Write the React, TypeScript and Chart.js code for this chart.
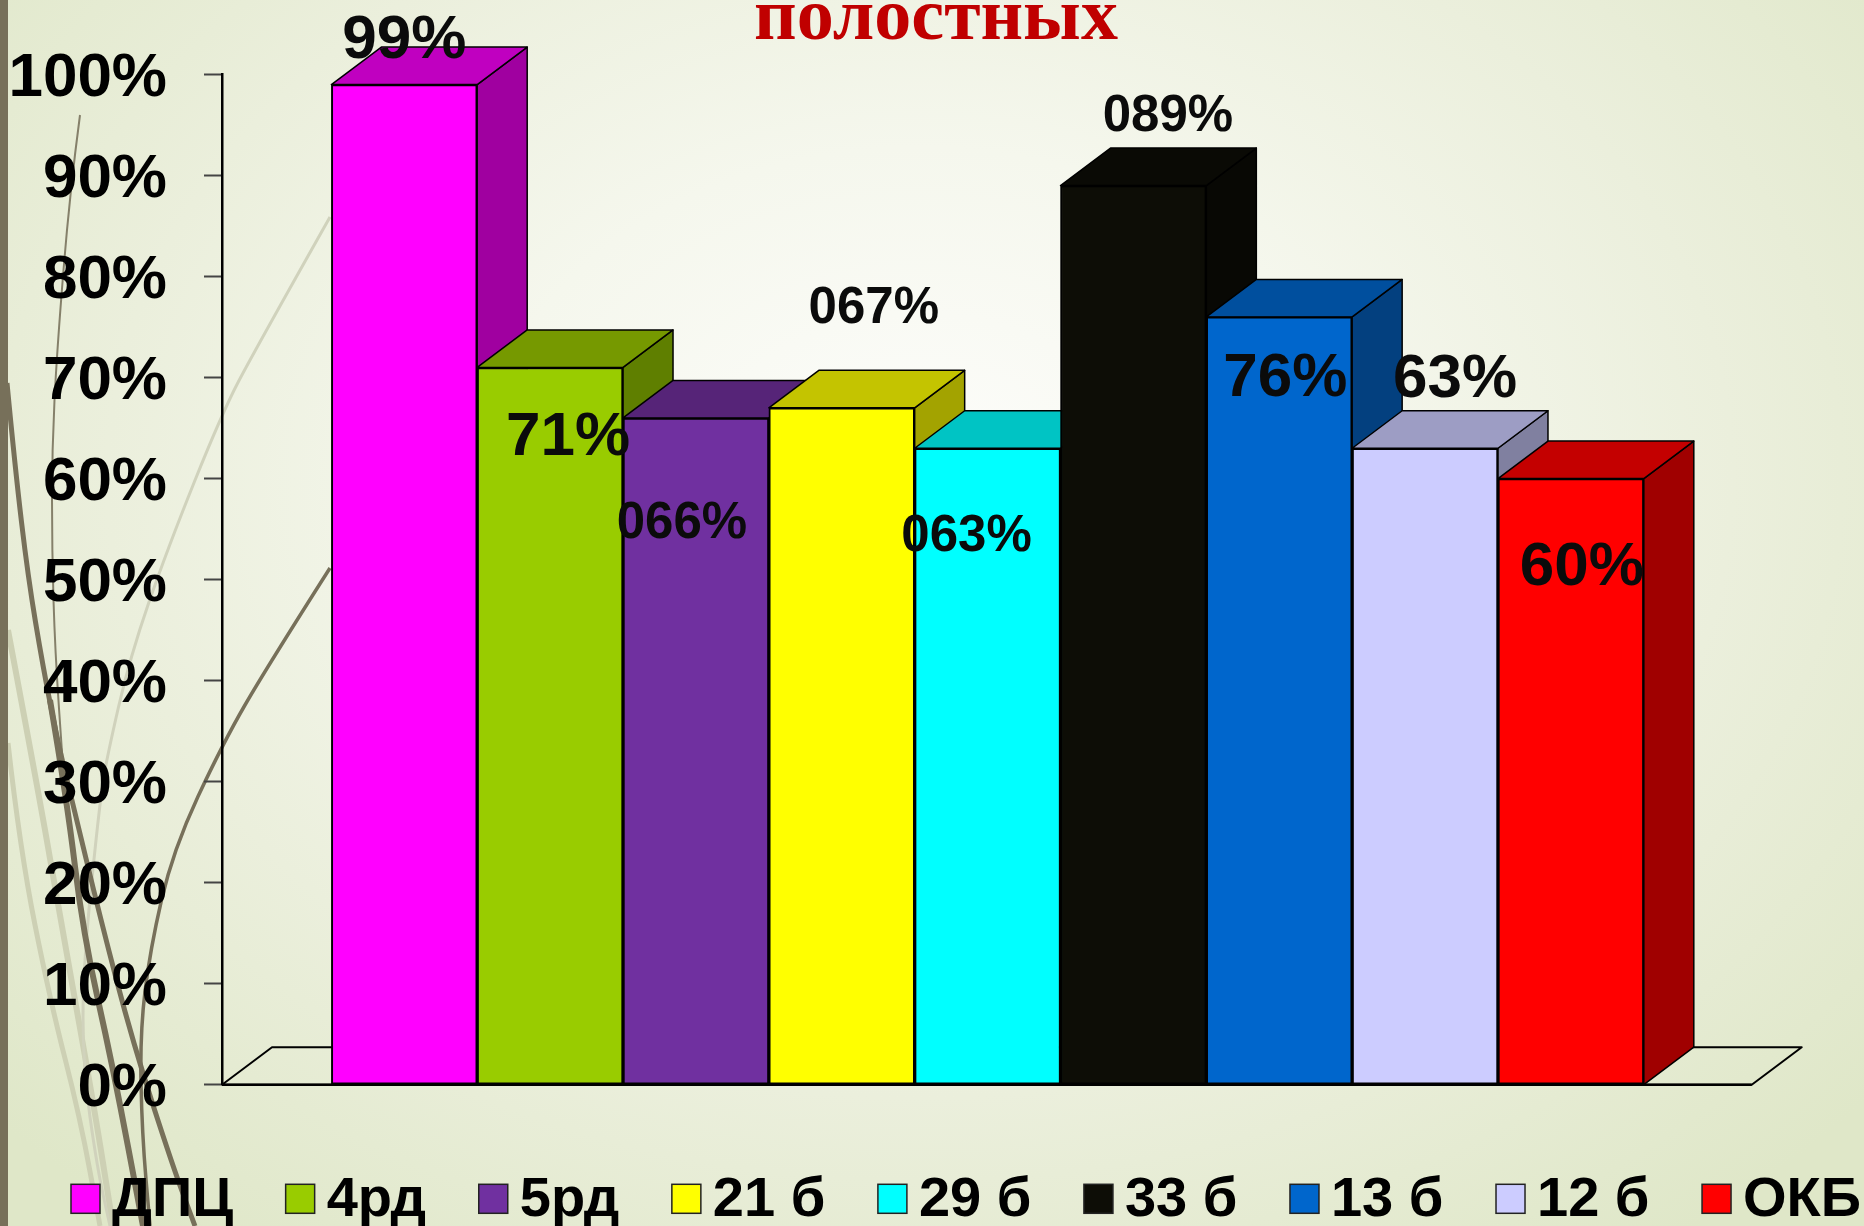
import React, { useEffect, useRef } from "react";
import { Chart, registerables } from "chart.js";

Chart.register(...registerables);

const categories = ["ДПЦ", "4рд", "5рд", "21 б", "29 б", "33 б", "13 б", "12 б", "ОКБ"];
const values = [99, 71, 66, 67, 63, 89, 76, 63, 60];
const valueLabels = ["99%", "71%", "066%", "067%", "063%", "089%", "76%", "63%", "60%"];
const barColors = ["#FF00FF", "#99CC00", "#7030A0", "#FFFF00", "#00FFFF", "#0D0D06", "#0066CC", "#CCCCFF", "#FF0000"];
const topColors = ["#C000C0", "#769900", "#562478", "#C4C400", "#00C4C4", "#0A0A05", "#004F9E", "#9D9DC4", "#C40000"];
const sideColors = ["#A000A0", "#5F7F00", "#481E64", "#A3A300", "#00A0A0", "#080804", "#03407F", "#8080A0", "#A00000"];
const yTicks = [0, 10, 20, 30, 40, 50, 60, 70, 80, 90, 100];
const titleText = "полостных";

// label placement relative to the bar top and centre: [dx, dy, font size]
const labelPlacement = [
  [0, -43.5, 62], [18, 70.5, 62], [-14, 106, 51], [32, -98.5, 51], [-21, 88.5, 51],
  [34.5, -68.5, 51], [6, 61.5, 62], [30, -68.5, 62], [11, 89.5, 62],
];

const DEPTH_X = 50;
const DEPTH_Y = 37.5;
const SANS = '"Liberation Sans", Arial, sans-serif';

type Curve = { w: number; c: string; p: number[][] };
const decorCurves: Curve[] = [
  { w: 6, c: "#cdd0b4", p: [[8, 630], [40, 800], [60, 917], [93, 1100], [113, 1226]] },
  { w: 5, c: "#cdd0b4", p: [[8, 743], [20, 850], [50, 1000], [80, 1117], [100, 1226]] },
  { w: 3, c: "#d0d2bc", p: [[330, 217], [255, 350], [222, 413], [167, 550], [130, 657], [107, 757], [100, 800], [83, 967], [83, 1067], [97, 1167], [110, 1226]] },
  { w: 2, c: "#85806a", p: [[80, 115], [70, 190], [57, 350], [52, 450], [52, 550], [55, 650], [63, 767]] },
  { w: 5, c: "#77705a", p: [[7, 383], [15, 467], [28, 577], [43, 667], [58, 743], [72, 800], [100, 917], [133, 1043], [173, 1167], [195, 1226]] },
  { w: 6, c: "#77705a", p: [[50, 700], [67, 800], [83, 933], [113, 1067], [143, 1226]] },
  { w: 3.5, c: "#77705a", p: [[330, 568], [267, 667], [223, 743], [173, 850], [150, 950], [140, 1033], [142, 1133], [150, 1226]] },
];

function drawCurve(ctx: CanvasRenderingContext2D, curve: Curve) {
  const p = curve.p;
  ctx.beginPath();
  ctx.moveTo(p[0][0], p[0][1]);
  for (let i = 1; i < p.length - 1; i++) {
    const mx = (p[i][0] + p[i + 1][0]) / 2;
    const my = (p[i][1] + p[i + 1][1]) / 2;
    ctx.quadraticCurveTo(p[i][0], p[i][1], mx, my);
  }
  ctx.lineTo(p[p.length - 1][0], p[p.length - 1][1]);
  ctx.lineWidth = curve.w;
  ctx.strokeStyle = curve.c;
  ctx.stroke();
}

function poly(ctx: CanvasRenderingContext2D, pts: number[][], fill: string | null, lw = 1.5) {
  ctx.beginPath();
  pts.forEach((q, i) => (i ? ctx.lineTo(q[0], q[1]) : ctx.moveTo(q[0], q[1])));
  ctx.closePath();
  if (fill) {
    ctx.fillStyle = fill;
    ctx.fill();
  }
  ctx.lineWidth = lw;
  ctx.strokeStyle = "#000";
  ctx.lineJoin = "round";
  ctx.stroke();
}

const decorPlugin = {
  id: "decor",
  beforeDraw(chart: any) {
    const { ctx } = chart;
    ctx.save();
    decorCurves.forEach((c) => drawCurve(ctx, c));
    ctx.fillStyle = "#77705a";
    ctx.fillRect(0, 0, 8, 1226);
    ctx.restore();
  },
};

const layoutPlugin = {
  id: "fixLayout",
  afterLayout(chart: any) {
    const lg = chart.legend;
    lg.left = 18.4;
    lg.right = 2100;
    lg.adjustHitBoxes();
    const t = chart.titleBlock;
    t.left = 8;
    t.right = 1864;
    chart.scales.y.getLabelItems().forEach((item: any) => {
      const tr = item.options.translation;
      item.options.translation = [tr[0], tr[1] + 4.5];
    });
  },
};

const depthPlugin = {
  id: "depth3d",
  beforeDatasetsDraw(chart: any) {
    const { ctx } = chart;
    const x = chart.scales.x;
    const y = chart.scales.y;
    const y0 = y.getPixelForValue(0);
    ctx.save();
    // floor of the 3D plot
    const xa = x.left;
    const xb = x.getPixelForValue(9.24);
    poly(ctx, [[xa, y0], [xa + DEPTH_X, y0 - DEPTH_Y], [xb + DEPTH_X, y0 - DEPTH_Y], [xb, y0]], null, 2);
    ctx.beginPath();
    ctx.moveTo(xa, y0);
    ctx.lineTo(xb, y0);
    ctx.lineWidth = 2.5;
    ctx.stroke();
    // sides and tops, painted left to right
    const bars = chart.getDatasetMeta(0).data;
    bars.forEach((bar: any, i: number) => {
      const half = bar.width / 2;
      const l = bar.x - half;
      const r = bar.x + half;
      const t = bar.y;
      const b = y0;
      poly(ctx, [[r, t], [r + DEPTH_X, t - DEPTH_Y], [r + DEPTH_X, b - DEPTH_Y], [r, b]], sideColors[i]);
      poly(ctx, [[l, t], [l + DEPTH_X, t - DEPTH_Y], [r + DEPTH_X, t - DEPTH_Y], [r, t]], topColors[i]);
    });
    ctx.restore();
  },
  afterDatasetsDraw(chart: any) {
    const { ctx } = chart;
    const bars = chart.getDatasetMeta(0).data;
    ctx.save();
    ctx.textAlign = "center";
    ctx.textBaseline = "middle";
    ctx.fillStyle = "#0b0b0b";
    bars.forEach((bar: any, i: number) => {
      const [dx, dy, size] = labelPlacement[i];
      ctx.font = `bold ${size}px ${SANS}`;
      ctx.fillText(valueLabels[i], bar.x + dx, bar.y + dy);
    });
    ctx.restore();
  },
  afterDraw(chart: any) {
    const { ctx } = chart;
    const lg = chart.legend;
    ctx.save();
    lg.legendHitBoxes.forEach((hb: any, i: number) => {
      const top = lg.top + 79 - 14.5;
      ctx.fillStyle = barColors[i];
      ctx.fillRect(hb.left, top, 29, 29);
      ctx.lineWidth = 1.5;
      ctx.strokeStyle = "#222";
      ctx.strokeRect(hb.left, top, 29, 29);
    });
    ctx.restore();
  },
};

export default function App() {
  const ref = useRef<HTMLCanvasElement | null>(null);
  useEffect(() => {
    const chart = new Chart(ref.current as HTMLCanvasElement, {
      type: "bar",
      data: {
        labels: categories,
        datasets: [
          {
            label: "полостных",
            data: values.map((v, i) => ({ x: i, y: v })),
            backgroundColor: barColors,
            borderColor: "#000",
            borderWidth: 2,
            borderSkipped: false,
            barPercentage: 1,
            categoryPercentage: 1,
          },
        ],
      },
      options: {
        animation: false,
        responsive: false,
        layout: { padding: { left: -60, right: 0, top: 0, bottom: -12.4 } },
        scales: {
          x: {
            type: "linear",
            min: -1.25,
            max: 10.01,
            offset: false,
            bounds: "data",
            grid: { display: false },
            border: { display: false },
            ticks: { display: false },
            afterFit(s: any) {
              s.height = 35.1;
            },
          },
          y: {
            min: 0,
            max: 100,
            afterBuildTicks(s: any) {
              s.ticks = yTicks.map((value) => ({ value }));
            },
            grid: { drawOnChartArea: false, tickLength: 18, tickColor: "#444", tickWidth: 2 },
            border: { color: "#000", width: 2.5 },
            ticks: {
              padding: 37,
              color: "#000",
              font: { family: SANS, size: 62, weight: "bold", lineHeight: 1 },
              autoSkip: false,
              callback: (v: any) => `${v}%`,
            },
            afterFit(s: any) {
              s.width = 282;
            },
          },
        },
        plugins: {
          tooltip: { enabled: false },
          title: {
            display: true,
            text: titleText,
            color: "#C00000",
            font: { family: '"Liberation Serif", "Times New Roman", serif', size: 74, weight: "bold", lineHeight: 1 },
            padding: { top: -17, bottom: 17.5 },
          },
          legend: {
            display: true,
            position: "bottom",
            align: "start",
            labels: {
              boxWidth: 13,
              boxHeight: 29,
              padding: 52.6,
              color: "#000",
              font: { family: SANS, size: 56, weight: "bold" },
              generateLabels: () =>
                categories.map((text, index) => ({
                  text,
                  index,
                  fillStyle: "transparent",
                  strokeStyle: "transparent",
                  lineWidth: 0,
                  hidden: false,
                  fontColor: "#000",
                })),
            },
          },
        },
      },
      plugins: [decorPlugin, layoutPlugin, depthPlugin],
    } as any);
    return () => chart.destroy();
  }, []);

  return (
    <div
      style={{
        position: "absolute",
        left: 0,
        top: 0,
        width: 1864,
        height: 1226,
        overflow: "hidden",
        background:
          "radial-gradient(ellipse 1250px 950px at 920px 480px, #fdfdfb 0%, #f5f7ed 35%, #ebefdc 65%, #dfe7c8 100%)",
      }}
    >
      <canvas ref={ref} width={1864} height={1226} style={{ display: "block" }} />
    </div>
  );
}
